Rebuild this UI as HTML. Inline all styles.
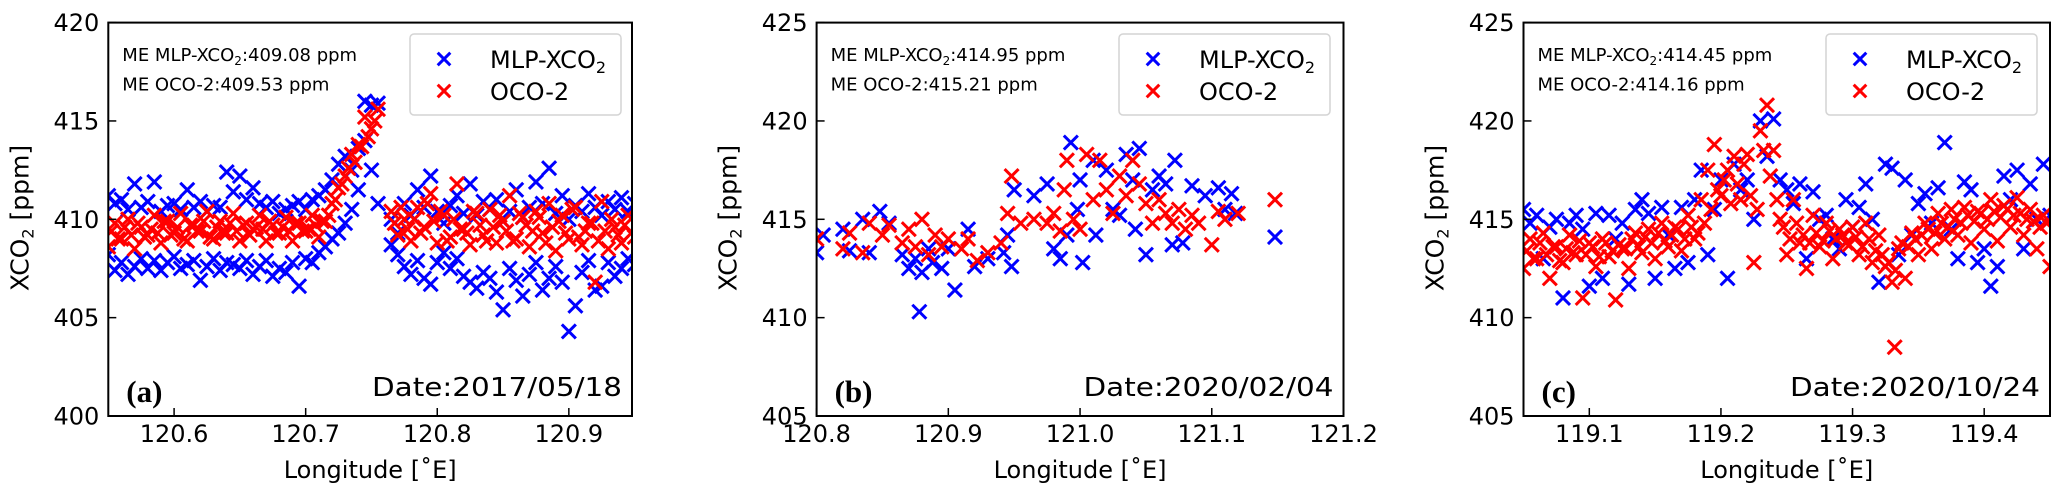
<!DOCTYPE html>
<html><head><meta charset="utf-8">
<style>
html,body{margin:0;padding:0;background:#fff;}
svg{display:block;font-family:"DejaVu Sans","Liberation Sans",sans-serif;}
</style></head>
<body>
<svg id="fig" width="2067" height="495" viewBox="0 0 2067 495" xmlns="http://www.w3.org/2000/svg"></svg>
<script>
// ---------- Panel (a) data ----------
const lonA = [120.550,120.555,120.560,120.565,120.570,120.575,120.580,120.585,120.590,120.595,120.600,120.605,120.610,120.615,120.620,120.625,120.630,120.635,120.640,120.645,120.650,120.655,120.660,120.665,120.670,120.675,120.680,120.685,120.690,120.695,120.700,120.705,120.710,120.715,120.720,120.725,120.730,120.735,120.740,120.745,120.750,120.755,120.760,120.765,120.770,120.775,120.780,120.785,120.790,120.795,120.800,120.805,120.810,120.815,120.820,120.825,120.830,120.835,120.840,120.845,120.850,120.855,120.860,120.865,120.870,120.875,120.880,120.885,120.890,120.895,120.900,120.905,120.910,120.915,120.920,120.925,120.930,120.935,120.940,120.945,120.950];
const lonA2 = [120.5525,120.5575,120.5625,120.5675,120.5725,120.5775,120.5825,120.5875,120.5925,120.5975,120.6025,120.6075,120.6125,120.6175,120.6225,120.6275,120.6325,120.6375,120.6425,120.6475,120.6525,120.6575,120.6625,120.6675,120.6725,120.6775,120.6825,120.6875,120.6925,120.6975,120.7025,120.7075,120.7125,120.7175,120.7225,120.7275,120.7325,120.7375,120.7425,120.7475,120.7525,120.7575,120.7625,120.7675,120.7725,120.7775,120.7825,120.7875,120.7925,120.7975,120.8025,120.8075,120.8125,120.8175,120.8225,120.8275,120.8325,120.8375,120.8425,120.8475,120.8525,120.8575,120.8625,120.8675,120.8725,120.8775,120.8825,120.8875,120.8925,120.8975,120.9025,120.9075,120.9125,120.9175,120.9225,120.9275,120.9325,120.9375,120.9425,120.9475];
const ocoA = [408.6,409.8,409.0,410.0,408.5,409.6,409.2,410.2,408.8,409.9,409.3,410.3,408.9,409.7,409.4,410.4,409.0,409.9,409.3,410.3,408.9,409.8,409.5,410.2,408.9,409.7,409.3,410.1,408.9,409.8,409.4,410.2,409.1,409.9,
410.8,411.6,412.2,413.3,413.8,415.2,414.6,415.6,null,
410.4,409.2,410.0,408.9,410.6,409.6,411.3,408.8,410.2,409.1,411.8,409.5,408.7,410.3,409.2,410.5,408.8,409.9,411.2,409.0,410.1,408.6,410.4,409.3,410.8,408.4,410.2,409.0,410.6,408.7,409.8,406.8,410.9,408.5,409.6,408.8,410.2,409.1];
const ocoA2 = [409.4,409.0,409.6,409.2,409.8,409.1,409.5,409.3,409.9,409.2,409.6,409.0,409.7,409.4,409.9,409.1,409.6,409.3,409.8,409.4,409.7,409.2,409.6,409.5,409.9,409.3,409.6,409.4,409.8,409.4,409.5,409.7,409.9,410.2,
411.0,411.8,412.6,412.9,413.7,414.2,415.0,null,null,
409.8,410.6,409.5,410.0,409.3,410.8,409.9,410.4,408.9,410.0,409.5,409.3,410.4,409.7,408.9,409.6,410.2,409.4,408.9,410.3,409.7,409.4,410.1,408.8,409.6,409.9,409.3,410.5,409.1,409.4,409.8,408.9,409.4,410.0,409.2,409.7,409.3];
const mlpLowA = [408.2,407.4,407.8,407.2,407.6,408.0,407.5,407.9,407.4,407.8,408.1,407.5,407.7,407.9,406.9,407.6,408.0,407.4,407.8,407.7,407.5,407.9,407.2,407.6,407.9,407.1,407.5,407.3,407.8,406.6,408.0,407.8,408.3,408.6,
409.0,409.3,409.8,410.5,411.5,414.0,412.5,410.8,null,
408.7,408.2,407.6,407.2,407.9,407.0,406.7,407.8,408.3,407.5,408.0,407.1,406.8,406.5,407.3,407.0,406.3,405.4,407.5,406.9,406.1,407.2,407.8,406.4,407.0,407.6,406.8,404.3,405.6,407.3,407.9,406.4,406.6,407.8,407.1,407.5,408.0,407.7];
const mlpHighA = [411.2,410.8,411.0,410.5,411.8,410.6,410.9,411.9,410.4,410.7,410.8,410.5,411.5,410.6,410.9,410.4,410.7,410.6,412.4,411.4,412.2,411.0,411.6,410.8,410.6,410.9,410.3,410.5,410.7,410.9,410.5,411.0,411.2,411.5,
412.0,412.8,413.2,412.5,413.6,416.0,415.8,415.9,null,
410.0,409.3,410.8,410.2,411.5,410.6,412.2,410.4,409.8,410.7,411.2,410.3,411.8,410.2,410.9,410.5,411.0,409.9,410.4,411.5,410.1,410.6,411.9,410.8,412.6,410.3,411.2,410.0,410.7,410.4,411.3,410.6,410.2,410.9,410.5,411.1,410.4,410.8];

// ---------- Panel (b) data ----------
const lonMlpB = [120.800,120.805,120.820,120.825,120.835,120.840,120.848,120.855,120.865,120.870,120.875,120.878,120.880,120.885,120.888,120.895,120.900,120.905,120.915,120.920,120.930,120.942,120.945,120.948,120.950,120.965,120.975,120.980,120.985,120.990,120.993,120.998,121.000,121.002,121.010,121.012,121.020,121.025,121.030,121.035,121.040,121.042,121.045,121.050,121.055,121.060,121.065,121.070,121.072,121.078,121.085,121.095,121.105,121.110,121.115,121.118,121.148];
const mlpB = [413.3,414.2,414.5,413.4,415.0,413.3,415.4,414.8,413.2,412.5,413.0,410.3,412.3,413.5,412.8,412.5,413.5,411.4,414.5,412.6,413.0,413.3,414.2,412.6,416.5,416.2,416.8,413.5,413.0,414.2,418.9,415.5,417.0,412.8,418.0,414.2,417.5,415.5,415.2,418.3,417.0,414.5,418.6,413.2,416.5,417.2,416.8,413.7,418.0,413.8,416.7,416.2,416.6,415.5,416.3,415.3,414.1];
const lonOcoB = [120.800,120.820,120.825,120.835,120.840,120.850,120.855,120.865,120.870,120.875,120.880,120.885,120.890,120.895,120.900,120.910,120.915,120.922,120.930,120.940,120.945,120.948,120.955,120.965,120.975,120.980,120.985,120.988,120.990,120.995,121.000,121.005,121.010,121.015,121.020,121.025,121.030,121.035,121.040,121.045,121.050,121.055,121.060,121.065,121.070,121.075,121.080,121.085,121.090,121.100,121.105,121.110,121.120,121.148];
const ocoB = [414.0,413.5,414.3,413.3,414.8,414.2,414.7,413.8,414.5,413.6,415.0,413.2,414.2,413.6,414.0,413.5,414.0,412.9,413.3,413.8,415.3,417.2,414.8,415.0,414.8,415.3,414.4,416.5,418.0,415.0,414.5,418.3,416.0,418.0,416.5,415.3,417.2,416.2,418.0,416.8,415.8,414.8,416.0,415.3,414.8,415.5,414.5,415.2,414.8,413.7,415.4,415.0,415.3,416.0];

// ---------- Panel (c) data ----------
const lonC = [119.050,119.055,119.060,119.065,119.070,119.075,119.080,119.085,119.090,119.095,119.100,119.105,119.110,119.115,119.120,119.125,119.130,119.135,119.140,119.145,119.150,119.155,119.160,119.165,119.170,119.175,119.180,119.185,119.190,119.195,119.200,119.205,119.210,119.215,119.220,119.225,119.230,119.235,119.240,119.245,119.250,119.255,119.260,119.265,119.270,119.275,119.280,119.285,119.290,119.295,119.300,119.305,119.310,119.315,119.320,119.325,119.330,119.335,119.340,119.345,119.350,119.355,119.360,119.365,119.370,119.375,119.380,119.385,119.390,119.395,119.400,119.405,119.410,119.415,119.420,119.425,119.430,119.435,119.440,119.445,119.450];
const lonC2 = [119.0525,119.0575,119.0625,119.0675,119.0725,119.0775,119.0825,119.0875,119.0925,119.0975,119.1025,119.1075,119.1125,119.1175,119.1225,119.1275,119.1325,119.1375,119.1425,119.1475,119.1525,119.1575,119.1625,119.1675,119.1725,119.1775,119.1825,119.1875,119.1925,119.1975,119.2025,119.2075,119.2125,119.2175,119.2225,119.2275,119.2325,119.2375,119.2425,119.2475,119.2525,119.2575,119.2625,119.2675,119.2725,119.2775,119.2825,119.2875,119.2925,119.2975,119.3025,119.3075,119.3125,119.3175,119.3225,119.3275,119.3325,119.3375,119.3425,119.3475,119.3525,119.3575,119.3625,119.3675,119.3725,119.3775,119.3825,119.3875,119.3925,119.3975,119.4025,119.4075,119.4125,119.4175,119.4225,119.4275,119.4325,119.4375,119.4425,119.4475];
const ocoC = [412.5,414.0,413.0,414.3,412.0,413.6,412.8,414.2,413.2,411.0,413.8,412.6,414.0,413.1,410.9,413.5,
412.5,414.3,413.3,414.5,413.0,414.8,413.6,414.6,413.4,415.2,414.0,416.0,
417.5,418.8,416.2,417.5,418.2,416.0,418.3,412.8,419.5,420.8,418.5,
415.0,413.2,416.0,413.8,412.5,415.2,413.6,414.8,413.0,414.5,413.8,414.6,413.2,414.8,412.8,414.2,412.6,411.8,
413.5,412.0,414.3,413.2,414.8,413.5,415.3,414.0,415.5,414.2,415.6,413.8,415.4,414.5,416.0,413.9,415.7,414.6,416.1,414.2,415.5,413.5,415.2,412.6];
const ocoC2 = [413.4,413.0,413.8,413.2,413.6,412.9,413.5,413.3,413.9,413.2,413.6,413.1,413.8,413.4,413.7,413.5,414.0,413.6,414.1,413.8,414.3,413.9,414.2,414.5,414.0,414.6,414.3,414.8,
415.5,416.5,417.0,415.8,416.8,417.8,416.2,415.5,418.5,417.2,416.0,
414.6,414.0,414.8,414.2,413.8,414.3,413.9,414.4,414.0,414.2,413.7,414.1,413.6,414.0,413.4,413.2,412.8,412.4,
413.8,413.6,414.0,414.2,414.5,414.3,414.8,414.6,415.0,414.8,415.2,414.9,415.3,415.0,415.4,415.1,415.5,415.2,415.3,415.0,414.9,414.6,414.8];
const mlpC = [415.5,414.8,415.2,413.0,414.6,415.0,411.0,414.8,415.2,414.5,411.6,415.3,412.0,415.2,414.0,414.8,
411.7,415.5,416.0,415.3,412.0,415.6,414.2,412.5,415.6,412.8,416.0,417.5,
413.2,415.5,417.0,412.0,417.8,416.5,417.0,415.0,420.0,418.2,420.1,
417.0,416.5,415.8,416.8,413.0,416.4,415.0,415.2,414.0,413.5,416.0,414.6,415.6,416.8,415.0,411.8,417.8,417.6,
413.2,417.0,414.2,415.8,416.3,414.8,416.6,418.9,414.5,413.0,416.9,416.5,412.8,413.5,411.6,412.6,417.2,416.0,417.5,413.5,416.8,415.0,417.8,415.2];
const lonOcoExtraC = [119.332];
const ocoExtraC = [408.5];

// tick labels
const xTicksA = [120.6,120.7,120.8,120.9];
const yTicksA = [400,405,410,415,420];
const xTicksB = [120.8,120.9,121.0,121.1,121.2];
const yTicksB = [405,410,415,420,425];
const xTicksC = [119.1,119.2,119.3,119.4];
const yTicksC = [405,410,415,420,425];

const NS = "http://www.w3.org/2000/svg";
const svg = document.getElementById('fig');
function mk(tag, attrs, parent){
  const e = document.createElementNS(NS, tag);
  for (const k in attrs) e.setAttribute(k, attrs[k]);
  (parent||svg).appendChild(e);
  return e;
}
const BLUE = '#0000ff', RED = '#ff0000';
function marker(g, cx, cy, col, name, s){
  const m = mk('g', {}, g);
  
  
  mk('line', {x1:cx-s,y1:cy-s,x2:cx+s,y2:cy+s,stroke:col,'stroke-width':3}, m);
  mk('line', {x1:cx-s,y1:cy+s,x2:cx+s,y2:cy-s,stroke:col,'stroke-width':3}, m);
}

function panel(p){
  const g = mk('g', {});
  
  
  const top = 22.6, bot = 416;
  const xs = v => p.left + (v - p.x0) / (p.x1 - p.x0) * (p.right - p.left);
  const ys = v => bot - (v - p.y0) / (p.y1 - p.y0) * (bot - top);
  const cid = 'clip' + p.id;
  const defs = mk('defs', {}, g);
  const cp = mk('clipPath', {id: cid}, defs);
  mk('rect', {x:p.left, y:top, width:p.right-p.left, height:bot-top}, cp);
  const data = mk('g', {'clip-path':'url(#'+cid+')'}, g);
  
  
  p.series.forEach(s => {
    for (let i = 0; i < s.vals.length; i++){
      if (s.vals[i] === null) continue;
      marker(data, xs(s.lon[i]), ys(s.vals[i]), s.col, s.name, 7);
    }
  });
  const fr = mk('rect', {x:p.left, y:top, width:p.right-p.left, height:bot-top, fill:'none', stroke:'#000', 'stroke-width':2}, g);
  
  
  p.xt.forEach(t => {
    const x = xs(t);
    mk('line', {x1:x, y1:bot, x2:x, y2:bot-8, stroke:'#000', 'stroke-width':1.5}, g);
    const tx = mk('text', {x:x, y:442, 'font-size':24, 'text-anchor':'middle', fill:'#000'}, g);
    
    
    tx.textContent = t.toFixed(1);
  });
  p.yt.forEach(t => {
    const y = ys(t);
    mk('line', {x1:p.left, y1:y, x2:p.left+8, y2:y, stroke:'#000', 'stroke-width':1.5}, g);
    const tx = mk('text', {x:p.left-9, y:y+8.5, 'font-size':24, 'text-anchor':'end', fill:'#000'}, g);
    
    
    tx.textContent = String(t);
  });
  const xl = mk('text', {x:(p.left+p.right)/2, y:478, 'font-size':24, 'text-anchor':'middle'}, g);
  
  
  xl.textContent = 'Longitude [\u02DAE]';
  const yl = mk('text', {x:0, y:0, 'font-size':25, 'text-anchor':'middle', transform:'translate('+(p.left-80)+',218) rotate(-90)'}, g);
  
  
  yl.innerHTML = 'XCO<tspan font-size="16" dy="5">2</tspan><tspan dy="-5"> [ppm]</tspan>';
  const a1 = mk('text', {x:p.left+14, y:61, 'font-size':18}, g);
  
  
  a1.innerHTML = 'ME MLP-XCO<tspan font-size="12" dy="4">2</tspan><tspan dy="-4">:' + p.meMlp + ' ppm</tspan>';
  const a2 = mk('text', {x:p.left+14, y:90.5, 'font-size':18}, g);
  
  
  a2.textContent = 'ME OCO-2:' + p.meOco + ' ppm';
  const lg = mk('g', {}, g);
  
  
  mk('rect', {x:p.legX, y:34, width:211, height:81, rx:4, fill:'#fff', 'fill-opacity':0.8, stroke:'#d4d4d4', 'stroke-width':1.5}, lg);
  marker(lg, p.legX+34, 59, BLUE, 'legend-marker-mlp', 6.3);
  marker(lg, p.legX+34, 91, RED, 'legend-marker-oco', 6.3);
  const l1 = mk('text', {x:p.legX+80, y:68, 'font-size':24}, lg);
  
  
  l1.innerHTML = 'MLP-XCO<tspan font-size="16" dy="5">2</tspan>';
  const l2 = mk('text', {x:p.legX+80, y:100, 'font-size':24}, lg);
  
  
  l2.textContent = 'OCO-2';
  const pl = mk('text', {x:p.left+18, y:402, 'font-size':31, 'font-weight':'bold', 'font-family':'"Liberation Serif",serif'}, g);
  
  
  pl.textContent = '(' + p.id + ')';
  const dt = mk('text', {x:p.right-10, y:396, 'font-size':26, 'text-anchor':'end', textLength:250, lengthAdjust:'spacingAndGlyphs'}, g);
  
  
  dt.textContent = 'Date:' + p.date;
}

panel({id:'a', left:108.3, right:632, x0:120.55, x1:120.948, y0:400, y1:420, xt:xTicksA, yt:yTicksA,
  meMlp:'409.08', meOco:'409.53', legX:410, date:'2017/05/18',
  series:[{lon:lonA, vals:mlpLowA, col:BLUE, name:'mlp-point'},{lon:lonA, vals:mlpHighA, col:BLUE, name:'mlp-point'},{lon:lonA, vals:ocoA, col:RED, name:'oco-point'},{lon:lonA2, vals:ocoA2, col:RED, name:'oco-point'}]});
panel({id:'b', left:816.6, right:1343.5, x0:120.8, x1:121.2, y0:405, y1:425, xt:xTicksB, yt:yTicksB,
  meMlp:'414.95', meOco:'415.21', legX:1119, date:'2020/02/04',
  series:[{lon:lonMlpB, vals:mlpB, col:BLUE, name:'mlp-point'},{lon:lonOcoB, vals:ocoB, col:RED, name:'oco-point'}]});
panel({id:'c', left:1523.5, right:2050, x0:119.05, x1:119.45, y0:405, y1:425, xt:xTicksC, yt:yTicksC,
  meMlp:'414.45', meOco:'414.16', legX:1826, date:'2020/10/24',
  series:[{lon:lonC, vals:mlpC, col:BLUE, name:'mlp-point'},{lon:lonC, vals:ocoC, col:RED, name:'oco-point'},{lon:lonC2, vals:ocoC2, col:RED, name:'oco-point'},{lon:lonOcoExtraC, vals:ocoExtraC, col:RED, name:'oco-point'}]});
</script>
</body></html>
